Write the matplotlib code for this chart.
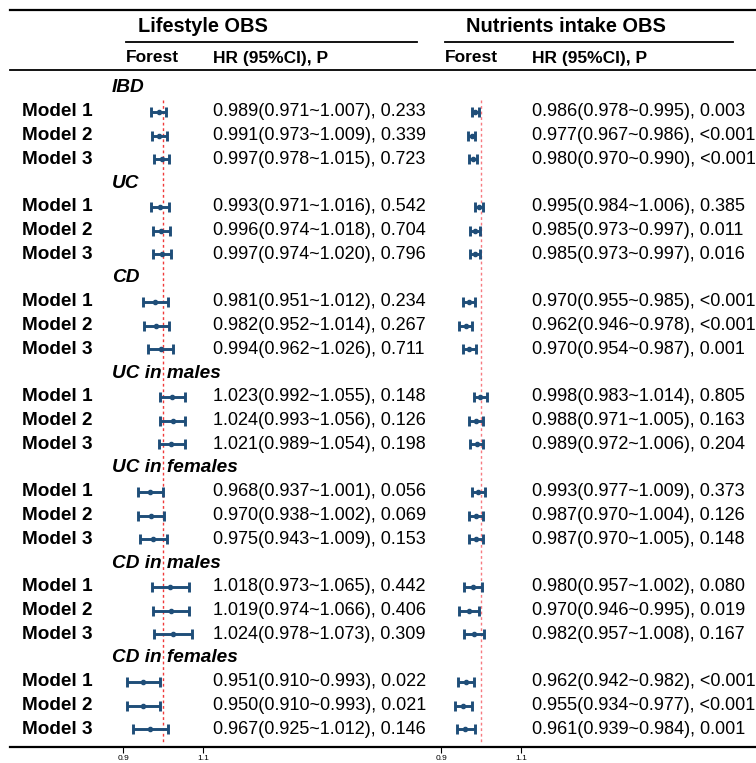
import numpy as np
import matplotlib.pyplot as plt

plt.rcParams['font.family'] = ['Liberation Sans', 'DejaVu Sans']

groups = ["IBD", "UC", "CD", "UC in males", "UC in females", "CD in males", "CD in females"]
models = ["Model 1", "Model 2", "Model 3"]

# Lifestyle OBS
life_hr = [0.989, 0.991, 0.997, 0.993, 0.996, 0.997, 0.981, 0.982, 0.994,
           1.023, 1.024, 1.021, 0.968, 0.970, 0.975, 1.018, 1.019, 1.024,
           0.951, 0.950, 0.967]
life_lo = [0.971, 0.973, 0.978, 0.971, 0.974, 0.974, 0.951, 0.952, 0.962,
           0.992, 0.993, 0.989, 0.937, 0.938, 0.943, 0.973, 0.974, 0.978,
           0.910, 0.910, 0.925]
life_hi = [1.007, 1.009, 1.015, 1.016, 1.018, 1.020, 1.012, 1.014, 1.026,
           1.055, 1.056, 1.054, 1.001, 1.002, 1.009, 1.065, 1.066, 1.073,
           0.993, 0.993, 1.012]
life_p = ["0.233", "0.339", "0.723", "0.542", "0.704", "0.796", "0.234", "0.267", "0.711",
          "0.148", "0.126", "0.198", "0.056", "0.069", "0.153", "0.442", "0.406", "0.309",
          "0.022", "0.021", "0.146"]

# Nutrients intake OBS
nutr_hr = [0.986, 0.977, 0.980, 0.995, 0.985, 0.985, 0.970, 0.962, 0.970,
           0.998, 0.988, 0.989, 0.993, 0.987, 0.987, 0.980, 0.970, 0.982,
           0.962, 0.955, 0.961]
nutr_lo = [0.978, 0.967, 0.970, 0.984, 0.973, 0.973, 0.955, 0.946, 0.954,
           0.983, 0.971, 0.972, 0.977, 0.970, 0.970, 0.957, 0.946, 0.957,
           0.942, 0.934, 0.939]
nutr_hi = [0.995, 0.986, 0.990, 1.006, 0.997, 0.997, 0.985, 0.978, 0.987,
           1.014, 1.005, 1.006, 1.009, 1.004, 1.005, 1.002, 0.995, 1.008,
           0.982, 0.977, 0.984]
nutr_p = ["0.003", "<0.001", "<0.001", "0.385", "0.011", "0.016", "<0.001", "<0.001", "0.001",
          "0.805", "0.163", "0.204", "0.373", "0.126", "0.148", "0.080", "0.019", "0.167",
          "<0.001", "<0.001", "0.001"]

W, H = 756, 763
fig = plt.figure(figsize=(W / 100, H / 100), dpi=100)

# background axes in pixel units for text and rules
ax = fig.add_axes([0, 0, 1, 1])
ax.set_xlim(0, W)
ax.set_ylim(H, 0)
ax.axis("off")

row0, pitch = 88, 23.75
line_bottom = 747
color = "#1f4e79"

# row positions: each group has a title row followed by 3 model rows
group_y = [row0 + 4 * g * pitch for g in range(len(groups))]
model_y = [row0 + (4 * g + m + 1) * pitch for g in range(len(groups)) for m in range(3)]

# horizontal rules
ax.plot([10, W], [10, 10], color="black", lw=1.6)
ax.plot([126, 417], [42, 42], color="black", lw=1.3)
ax.plot([445, 733], [42, 42], color="black", lw=1.3)
ax.plot([10, W], [70, 70], color="black", lw=1.3)
ax.plot([10, W], [line_bottom, line_bottom], color="black", lw=1.6)

# headers
ax.text(203, 27, "Lifestyle OBS", fontsize=14.4, fontweight="bold", ha="center", va="center")
ax.text(566, 27, "Nutrients intake OBS", fontsize=14.4, fontweight="bold", ha="center", va="center")
for x0, x1 in [(126, 213), (445, 532)]:
    ax.text(x0, 58, "Forest", fontsize=12.5, fontweight="bold", ha="left", va="center")
    ax.text(x1, 58, "HR (95%CI), P", fontsize=12.5, fontweight="bold", ha="left", va="center")

# row labels
for g, y in zip(groups, group_y):
    ax.text(112, y, g, fontsize=13.7, fontweight="bold", fontstyle="italic", ha="left", va="center")
for i, y in enumerate(model_y):
    ax.text(22, y, models[i % 3], fontsize=13.7, fontweight="bold", ha="left", va="center")
    ax.text(213, y, f"{life_hr[i]:.3f}({life_lo[i]:.3f}~{life_hi[i]:.3f}), {life_p[i]}",
            fontsize=13, ha="left", va="center")
    ax.text(532, y, f"{nutr_hr[i]:.3f}({nutr_lo[i]:.3f}~{nutr_hi[i]:.3f}), {nutr_p[i]}",
            fontsize=13, ha="left", va="center")


def forest(px_left, px_right, px_09, hr, lo, hi, ref_color):
    # 400 px per HR unit, 0.9 sits at px_09
    a = fig.add_axes([px_left / W, (H - line_bottom) / H, (px_right - px_left) / W, line_bottom / H])
    a.set_xlim(0.9 + (px_left - px_09) / 400, 0.9 + (px_right - px_09) / 400)
    a.set_ylim(line_bottom, 0)
    a.patch.set_alpha(0)
    for s in a.spines.values():
        s.set_visible(False)
    a.vlines(1.0, 100, 743, color=ref_color, lw=1, linestyles=(0, (2, 2)))
    hr = np.array(hr)
    err = [hr - np.array(lo), np.array(hi) - hr]
    a.errorbar(hr, model_y, xerr=err, fmt="o", color=color, ms=3, lw=2.1,
               capsize=3.5, capthick=2.1)
    a.set_yticks([])
    a.set_xticks([0.9, 1.1])
    a.set_xticklabels(["0.9", "1.1"])
    a.tick_params(axis="x", length=4, width=0.8, pad=1.5, labelsize=6)
    return a


forest(95, 240, 123, life_hr, life_lo, life_hi, "#f03a3a")
forest(415, 560, 441, nutr_hr, nutr_lo, nutr_hi, "#f77a80")

fig.savefig("out.png", dpi=100)
